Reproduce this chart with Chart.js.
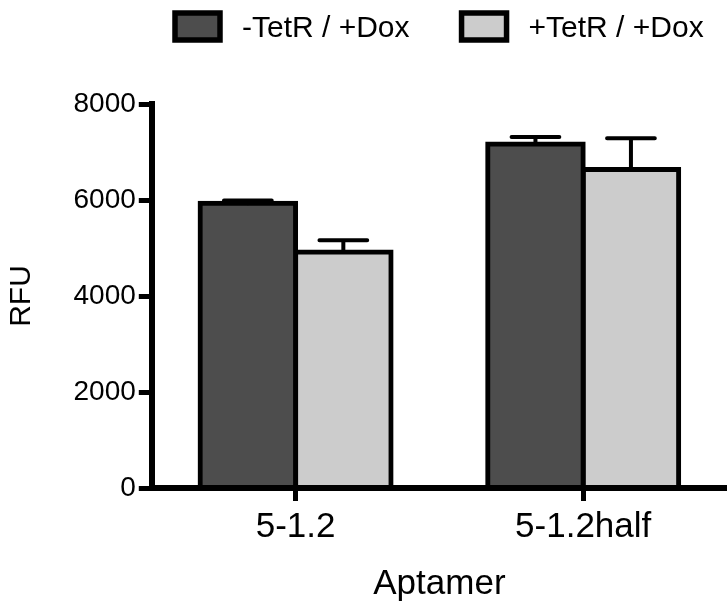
<!DOCTYPE html>
<html>
<head>
<meta charset="utf-8">
<script src="https://cdn.jsdelivr.net/npm/chart.js@4"></script>
<style>
  html, body { margin: 0; padding: 0; background: #fff; }
  #wrap { width: 727px; height: 605px; position: relative; }
</style>
</head>
<body>
<div id="wrap"><canvas id="chart"></canvas></div>
<script>
// data
const categories = ['5-1.2', '5-1.2half'];
const seriesLabels = ['-TetR / +Dox', '+TetR / +Dox'];
const minusTetR = [5930, 7165];
const plusTetR = [4915, 6635];
const minusTetRErr = [60, 150];
const plusTetRErr = [245, 650];
const yTicks = [0, 2000, 4000, 6000, 8000];

const FONT = "'Liberation Sans', Arial, Helvetica, sans-serif";
const errors = [minusTetRErr, plusTetRErr];

// error bars (mean + SD, upper only)
const errorBars = {
  id: 'errorBars',
  afterDatasetsDraw(chart) {
    const ctx = chart.ctx;
    const y = chart.scales.y;
    ctx.save();
    ctx.strokeStyle = '#000';
    ctx.lineWidth = 4;
    ctx.lineCap = 'round';
    chart.data.datasets.forEach((ds, i) => {
      chart.getDatasetMeta(i).data.forEach((bar, j) => {
        const top = y.getPixelForValue(ds.data[j] + errors[i][j]);
        const half = bar.width / 4;
        ctx.beginPath();
        ctx.moveTo(bar.x, bar.y);
        ctx.lineTo(bar.x, top);
        ctx.moveTo(bar.x - half, top);
        ctx.lineTo(bar.x + half, top);
        ctx.stroke();
      });
    });
    ctx.restore();
  }
};

// legend boxes along the top
const boxLegend = {
  id: 'boxLegend',
  afterDraw(chart) {
    const ctx = chart.ctx;
    ctx.save();
    ctx.font = '30px ' + FONT;
    ctx.textBaseline = 'alphabetic';
    let x = 175;
    chart.data.datasets.forEach(ds => {
      ctx.fillStyle = ds.backgroundColor;
      ctx.fillRect(x, 13, 45, 27);
      ctx.lineWidth = 5.5;
      ctx.strokeStyle = '#000';
      ctx.strokeRect(x, 13, 45, 27);
      ctx.fillStyle = '#000';
      ctx.fillText(ds.label, x + 67, 37);
      x += 67 + ctx.measureText(ds.label).width + 52;
    });
    ctx.restore();
  }
};

const barCommon = {
  borderColor: '#000',
  borderWidth: 5,
  borderSkipped: false,
  inflateAmount: 2.5,
  barPercentage: 1,
  categoryPercentage: 0.664
};

new Chart(document.getElementById('chart'), {
  type: 'bar',
  data: {
    labels: categories,
    datasets: [
      { ...barCommon, label: seriesLabels[0], data: minusTetR, backgroundColor: '#4d4d4d' },
      { ...barCommon, label: seriesLabels[1], data: plusTetR, backgroundColor: '#cccccc' }
    ]
  },
  options: {
    responsive: true,
    maintainAspectRatio: false,
    animation: false,
    layout: { padding: { top: 104, right: 0, bottom: 0, left: 0 } },
    plugins: {
      legend: { display: false },
      tooltip: { enabled: false }
    },
    scales: {
      x: {
        grid: {
          offset: false,
          drawOnChartArea: false,
          drawTicks: true,
          tickLength: 13,
          tickWidth: 5,
          tickColor: '#000'
        },
        border: { display: true, color: '#000', width: 6 },
        ticks: { color: '#000', padding: 5, font: { family: FONT, size: 35 } },
        title: {
          display: true,
          text: 'Aptamer',
          color: '#000',
          font: { family: FONT, size: 35 },
          padding: { top: 10, bottom: 0 }
        }
      },
      y: {
        min: 0,
        max: 8000,
        afterBuildTicks: axis => { axis.ticks = yTicks.map(v => ({ value: v })); },
        grid: {
          drawOnChartArea: false,
          drawTicks: true,
          tickLength: 13,
          tickWidth: 5,
          tickColor: '#000'
        },
        border: { display: true, color: '#000', width: 6 },
        ticks: {
          color: '#000',
          padding: 3,
          font: { family: FONT, size: 28 },
          callback: v => String(v)
        },
        title: {
          display: true,
          text: 'RFU',
          color: '#000',
          font: { family: FONT, size: 30 },
          padding: { top: 3.5, bottom: 31 }
        }
      }
    }
  },
  plugins: [errorBars, boxLegend]
});
</script>
</body>
</html>
